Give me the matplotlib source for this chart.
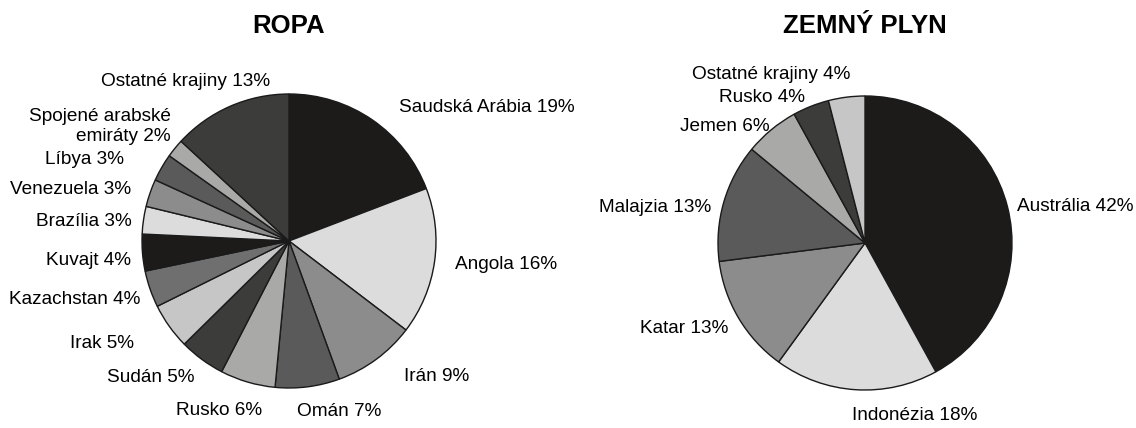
import numpy as np
import matplotlib
matplotlib.use('Agg')
import matplotlib.pyplot as plt

plt.rcParams['font.family'] = ['Liberation Sans', 'DejaVu Sans']

# ========== 数据 ==========
ropa_labels = ['Saudská Arábia', 'Angola', 'Irán', 'Omán', 'Rusko', 'Sudán', 'Irak',
               'Kazachstan', 'Kuvajt', 'Brazília', 'Venezuela', 'Líbya',
               'Spojené arabské\nemiráty', 'Ostatné krajiny']
ropa_values = [19, 16, 9, 7, 6, 5, 5, 4, 4, 3, 3, 3, 2, 13]

plyn_labels = ['Austrália', 'Indonézia', 'Katar', 'Malajzia', 'Jemen', 'Rusko',
               'Ostatné krajiny']
plyn_values = [42, 18, 13, 13, 6, 4, 4]

palette = ['#1c1b1a', '#dcdcdc', '#8c8c8c', '#5a5a5a', '#a9aaa8', '#3c3c3b',
           '#c6c6c6', '#6f6f6f']

# 标签位置微调：(距离, 角度偏移°)
ropa_lbl_pos = [(1.18, -5), (1.14, 0), (1.21, 4), (1.16, -4.6), (1.17, 7.4),
                (1.13, 1.5), (1.26, -2), (1.09, 2.5), (1.08, 2.4), (1.08, 1.3),
                (1.13, 1.2), (1.25, 3.6), (1.12, -4.9), (1.09, -16.8)]
plyn_lbl_pos = [(1.06, -1), (1.18, -0.7), (1.10, 1.5), (1.07, 3.3), (1.02, -0.3),
                (1.07, 0.7), (1.15, -2.1)]

W, H = 1136, 428
fig = plt.figure(figsize=(W / 100, H / 100), dpi=100)


def draw_pie(cx, cy, r, labels, values, lbl_pos, title, title_y):
    ax = fig.add_axes([(cx - r) / W, (H - cy - r) / H, 2 * r / W, 2 * r / H])
    colors = [palette[i % len(palette)] for i in range(len(values))]
    texts = [f'{l} {v}%' for l, v in zip(labels, values)]
    wedges, lbls = ax.pie(values, labels=texts, colors=colors, startangle=90,
                          counterclock=False,
                          wedgeprops=dict(edgecolor='#1a1a1a', linewidth=1.0),
                          textprops=dict(fontsize=13.7, color='black'))
    for w, t, (d, sh) in zip(wedges, lbls, lbl_pos):
        ang = np.deg2rad((w.theta1 + w.theta2) / 2 + sh)
        x, y = d * np.cos(ang), d * np.sin(ang)
        t.set_position((x, y))
        t.set_ha('left' if x > 0 else 'right')
        t.set_va('center')
        if '\n' in t.get_text():
            t.set_multialignment('right')
    ax.set_xlim(-1, 1); ax.set_ylim(-1, 1)
    ax.axis('off')
    fig.text(cx / W, 1 - title_y / H, title, ha='center', va='center',
             fontsize=18.5, fontweight='bold')
    return ax, lbls


ax1, l1 = draw_pie(289, 241, 147, ropa_labels, ropa_values, ropa_lbl_pos, 'ROPA', 26)
ax2, l2 = draw_pie(865, 243, 147, plyn_labels, plyn_values, plyn_lbl_pos, 'ZEMNÝ PLYN', 26)
# Indonézia 标签在锚点右侧
l2[1].set_ha('left')

fig.savefig('out.png', dpi=100)
